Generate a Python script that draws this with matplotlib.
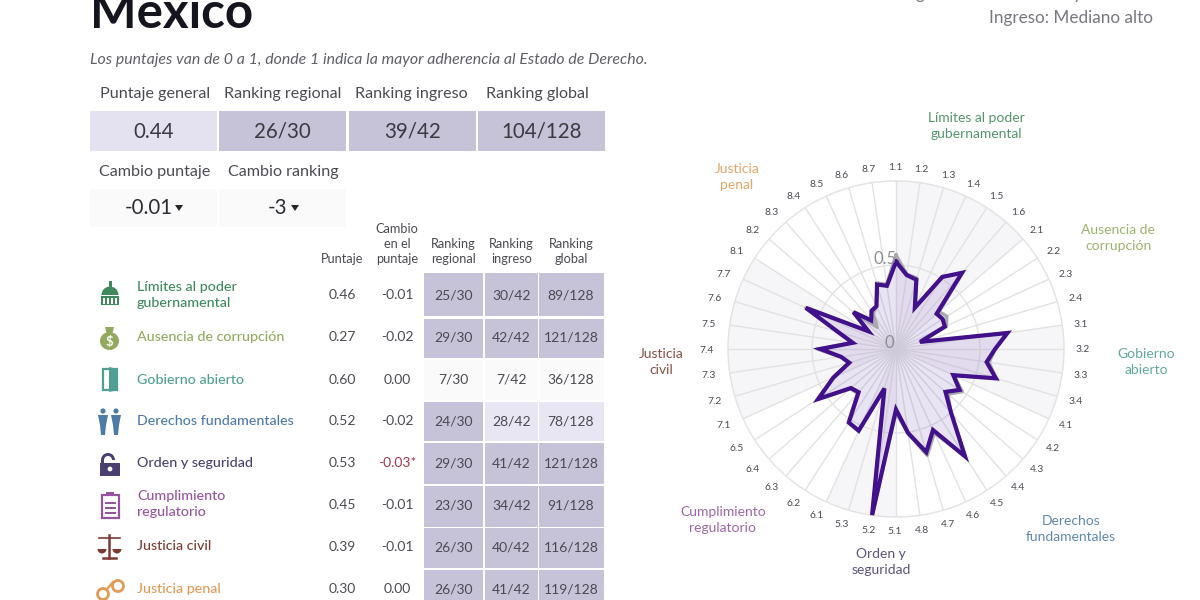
import numpy as np
import matplotlib
matplotlib.use('Agg')
import matplotlib.pyplot as plt
from matplotlib.patches import Rectangle, Circle, Polygon, Wedge, Ellipse

plt.rcParams['font.family'] = ['Lato', 'DejaVu Sans']

# summary boxes
head_labels = ['Puntaje general', 'Ranking regional', 'Ranking ingreso', 'Ranking global']
head_values = ['0.44', '26/30', '39/42', '104/128']
head_colors = ['#e4e2f0', '#c6c2d8', '#c6c2d8', '#c6c2d8']
change_labels = ['Cambio puntaje', 'Cambio ranking']
change_values = ['-0.01', '-3']

# factor table
factors = ['Límites al poder\ngubernamental', 'Ausencia de corrupción', 'Gobierno abierto',
           'Derechos fundamentales', 'Orden y seguridad', 'Cumplimiento\nregulatorio',
           'Justicia civil', 'Justicia penal']
factor_colors = ['#3f8a5c', '#93a95e', '#4f9f93', '#4c7ba5', '#4b3f72', '#96549f', '#7a3b32', '#e39a55']
scores = ['0.46', '0.27', '0.60', '0.52', '0.53', '0.45', '0.39', '0.30']
changes = ['-0.01', '-0.02', '0.00', '-0.02', '-0.03*', '-0.01', '-0.01', '0.00']
rank_reg = ['25/30', '29/30', '7/30', '24/30', '29/30', '23/30', '26/30', '26/30']
rank_inc = ['30/42', '42/42', '7/42', '28/42', '41/42', '34/42', '40/42', '41/42']
rank_glo = ['89/128', '121/128', '36/128', '78/128', '121/128', '91/128', '116/128', '119/128']
reg_colors = ['#c6c2d8', '#c6c2d8', '#fafafa', '#c6c2d8', '#c6c2d8', '#c6c2d8', '#c6c2d8', '#c6c2d8']
inc_colors = ['#c6c2d8', '#c6c2d8', '#fafafa', '#e8e6f2', '#c6c2d8', '#c6c2d8', '#c6c2d8', '#c6c2d8']
glo_colors = ['#c6c2d8', '#c6c2d8', '#fafafa', '#e8e6f2', '#c6c2d8', '#c6c2d8', '#c6c2d8', '#c6c2d8']

# radar
sub_labels = ['1.1', '1.2', '1.3', '1.4', '1.5', '1.6', '2.1', '2.2', '2.3', '2.4', '3.1',
              '3.2', '3.3', '3.4', '4.1', '4.2', '4.3', '4.4', '4.5', '4.6', '4.7', '4.8',
              '5.1', '5.2', '5.3', '6.1', '6.2', '6.3', '6.4', '6.5', '7.1', '7.2', '7.3',
              '7.4', '7.5', '7.6', '7.7', '8.1', '8.2', '8.3', '8.4', '8.5', '8.6', '8.7']
current = [0.52, 0.445, 0.43, 0.27, 0.51, 0.60, 0.32, 0.33, 0.32, 0.15, 0.67,
           0.59, 0.545, 0.62, 0.375, 0.45, 0.39, 0.50, 0.76, 0.53, 0.64, 0.505,
           0.36, 1.00, 0.245, 0.535, 0.52, 0.34, 0.355, 0.55, 0.41, 0.29, 0.33,
           0.45, 0.26, 0.36, 0.59, 0.195, 0.335, 0.225, 0.27, 0.28, 0.40, 0.38]
previous = [0.56, 0.45, 0.44, 0.27, 0.51, 0.60, 0.34, 0.36, 0.33, 0.15, 0.67,
            0.59, 0.56, 0.62, 0.38, 0.47, 0.41, 0.50, 0.76, 0.55, 0.66, 0.51,
            0.38, 1.00, 0.25, 0.53, 0.52, 0.35, 0.36, 0.56, 0.41, 0.29, 0.33,
            0.47, 0.26, 0.36, 0.59, 0.19, 0.33, 0.17, 0.25, 0.28, 0.41, 0.39]
# spokes where the shaded bands start and stop
band_starts = ['1.1', '3.1', '5.1', '7.1']
band_ends = ['2.1', '4.1', '6.1', '8.1']
radar_names = ['Límites al poder\ngubernamental', 'Ausencia de\ncorrupción', 'Gobierno\nabierto',
               'Derechos\nfundamentales', 'Orden y\nseguridad', 'Cumplimiento\nregulatorio',
               'Justicia\ncivil', 'Justicia\npenal']
name_x = [976, 1118, 1146, 1071, 881, 723, 661, 737]
name_y = [126, 238, 362, 529, 562, 520, 362, 177]

fig = plt.figure(figsize=(12, 6), dpi=100)
ax = fig.add_axes([0, 0, 1, 1])
ax.set_xlim(0, 1200)
ax.set_ylim(600, 0)
ax.axis('off')

ax.text(90, 28, 'México', fontsize=35.5, fontweight='bold', color='#15151f', va='baseline')
ax.text(1153, 18, 'Ingreso: Mediano alto', fontsize=12.3, color='#77777f', ha='right', va='center')
ax.text(1153, -6, 'Región: América Latina y el Caribe', fontsize=12.3, color='#77777f', ha='right', va='center')
ax.text(90, 60, 'Los puntajes van de 0 a 1, donde 1 indica la mayor adherencia al Estado de Derecho.',
        fontsize=11.4, style='italic', color='#5f5f68', va='center')

# header boxes
box_x = [90, 219, 349, 478]
box_w = [127, 127, 127, 127]
head_label_x = [155, 283, 411, 537]
for i in range(4):
    ax.add_patch(Rectangle((box_x[i], 111), box_w[i], 40, color=head_colors[i], lw=0))
    ax.text(head_label_x[i], 94, head_labels[i], fontsize=11.6, color='#4a4a52', ha='center', va='center')
    ax.text(box_x[i] + box_w[i] / 2, 132, head_values[i], fontsize=14.8, color='#3a3a42', ha='center', va='center')
for i in range(2):
    ax.add_patch(Rectangle((box_x[i], 189), box_w[i], 38, color='#fafafa', lw=0))
    ax.text(head_label_x[i], 172, change_labels[i], fontsize=11.6, color='#4a4a52', ha='center', va='center')
    ax.text(box_x[i] + box_w[i] / 2 - 5, 208, change_values[i], fontsize=14.8, color='#2c2c34', ha='center', va='center')
for tx in [179, 295]:
    ax.add_patch(Polygon([(tx - 4, 205), (tx + 4, 205), (tx, 211)], color='#222228', lw=0))

# table
col_x = [342, 397, 453.5, 511.5, 571]
col_w = [0, 0, 59, 53, 65]
col_heads = ['Puntaje', 'Cambio\nen el\npuntaje', 'Ranking\nregional', 'Ranking\ningreso', 'Ranking\nglobal']
for x, h in zip(col_x, col_heads):
    ax.text(x, 265, h, fontsize=9.2, color='#4a4a52', ha='center', va='bottom', linespacing=1.32, multialignment='center')

row_tops = [273, 319, 360, 402, 443, 486, 528, 570]
row_bots = [316, 358, 400, 441, 484, 527, 568, 612]
row_y = [295, 337, 380, 421, 463, 505, 547, 589]
name_row_y = [295, 337, 380, 421, 463, 504, 546, 589]
for i in range(8):
    for x, w, colors, texts in zip(col_x[2:], col_w[2:], [reg_colors, inc_colors, glo_colors], [rank_reg, rank_inc, rank_glo]):
        ax.add_patch(Rectangle((x - w / 2, row_tops[i]), w, row_bots[i] - row_tops[i], color=colors[i], lw=0))
        ax.text(x, row_y[i], texts[i], fontsize=10, color='#4a4a52', ha='center', va='center')
    ax.text(col_x[0], row_y[i], scores[i], fontsize=10, color='#4a4a52', ha='center', va='center')
    ch_color = '#a5344c' if changes[i].endswith('*') else '#4a4a52'
    ax.text(col_x[1], row_y[i], changes[i], fontsize=10, color=ch_color, ha='center', va='center')
    ax.text(137, name_row_y[i], factors[i], fontsize=10.3, color=factor_colors[i], va='center', linespacing=1.42,
            fontweight='medium')

# small icons, drawn by hand
c = factor_colors
ax.add_patch(Wedge((110, 295), 8.5, 180, 360, color=c[0], lw=0))
ax.add_patch(Rectangle((108.5, 281), 3, 6, color=c[0], lw=0))
ax.add_patch(Rectangle((101, 296), 18, 9, color=c[0], lw=0))
for x in [103, 107, 111, 115]:
    ax.add_patch(Rectangle((x, 297.5), 1.8, 6, color='white', lw=0))
ax.add_patch(Ellipse((109.5, 341), 19, 18, color=c[1], lw=0))
ax.add_patch(Polygon([(105, 327), (114, 327), (112, 335), (107, 335)], color=c[1], lw=0))
ax.text(109.5, 342, '$', fontsize=9.5, fontweight='bold', color='white', ha='center', va='center')
ax.add_patch(Rectangle((103, 369), 14, 21, fill=False, ec=c[2], lw=1.6))
ax.add_patch(Polygon([(109, 367), (118, 369), (118, 390), (109, 392)], color=c[2], lw=0))
for x in [103, 116]:
    ax.add_patch(Circle((x, 411), 2.6, color=c[3], lw=0))
    ax.add_patch(Polygon([(x - 5, 415), (x + 5, 415), (x + 3, 425), (x + 2, 435), (x - 2, 435), (x - 3, 425)], color=c[3], lw=0))
ax.add_patch(Rectangle((100, 463), 20, 13, color=c[4], lw=0))
ax.add_patch(Wedge((108, 460), 7, 180, 360, width=3, color=c[4], lw=0))
ax.add_patch(Rectangle((101, 460), 3, 4, color=c[4], lw=0))
ax.add_patch(Circle((110, 469), 2.4, color='white', lw=0))
ax.add_patch(Rectangle((102, 495), 17, 23, fill=False, ec=c[5], lw=1.6))
ax.add_patch(Rectangle((106, 492), 8, 4, color=c[5], lw=0))
for y in [502, 507, 512]:
    ax.add_patch(Rectangle((105, y), 11, 1.5, color=c[5], lw=0))
ax.plot([109, 109], [535, 558], color=c[6], lw=1.8)
ax.plot([99, 120], [538, 538], color=c[6], lw=1.2)
ax.plot([103, 116], [558, 558], color=c[6], lw=1.8)
ax.add_patch(Wedge((102, 549), 4.5, 0, 180, color=c[6], lw=0))
ax.add_patch(Wedge((117, 549), 4.5, 0, 180, color=c[6], lw=0))
ax.add_patch(Circle((103, 594), 5.5, fill=False, ec=c[7], lw=2))
ax.add_patch(Circle((118, 586), 5.5, fill=False, ec=c[7], lw=2))
ax.plot([107, 113], [589, 582], color=c[7], lw=1.6)

# radar chart, centre (896, 349), radius 168 px
rad = fig.add_axes([728 / 1200, (600 - 349 - 168) / 600, 336 / 1200, 336 / 600], projection='polar')
rad.set_theta_zero_location('N')
rad.set_theta_direction(-1)
rad.set_ylim(0, 1)
rad.set_xticks([])
rad.set_yticks([])
rad.spines['polar'].set_color('#e2e2e2')
rad.spines['polar'].set_linewidth(1)
rad.patch.set_alpha(0)
n = len(sub_labels)
theta = np.arange(n) * 2 * np.pi / n
for s, e in zip(band_starts, band_ends):
    i0, i1 = sub_labels.index(s), sub_labels.index(e)
    rad.bar((theta[i0] + theta[i1]) / 2, 1, width=theta[i1] - theta[i0], bottom=0, color='#f6f5f8', lw=0, zorder=1)
for t in theta:
    rad.plot([t, t], [0, 1], color='#e2e2e2', lw=1, zorder=2)
ring = np.linspace(0, 2 * np.pi, 200)
rad.plot(ring, np.full(200, 0.5), color='#e2e2e2', lw=1, zorder=2)
closed = np.append(theta, theta[0])
rad.fill(closed, current + current[:1], color='#7d5fb8', alpha=0.17, lw=0, zorder=3)
rad.plot(closed, previous + previous[:1], color='#a9a9ad', lw=2.4, zorder=4)
rad.plot(closed, current + current[:1], color='#41108a', lw=3, zorder=5, solid_joinstyle='miter')
rad.set_zorder(1)
ax.set_zorder(2)
ax.patch.set_alpha(0)

for t, lab in zip(theta, sub_labels):
    ax.text(895 + 188 * np.sin(t), 350 - 182 * np.cos(t), lab, fontsize=7.4, color='#4a4a52', ha='center', va='center')

ax.text(885, 259, '0.5', fontsize=12, color='#8f8f96', ha='center', va='center', zorder=10)
ax.text(889, 343, '0', fontsize=12, color='#8f8f96', ha='center', va='center', zorder=10)

for i in range(8):
    ax.text(name_x[i], name_y[i], radar_names[i], fontsize=10, color=factor_colors[i], alpha=0.9,
            ha='center', va='center', linespacing=1.42)

fig.savefig('out.png', dpi=100)
